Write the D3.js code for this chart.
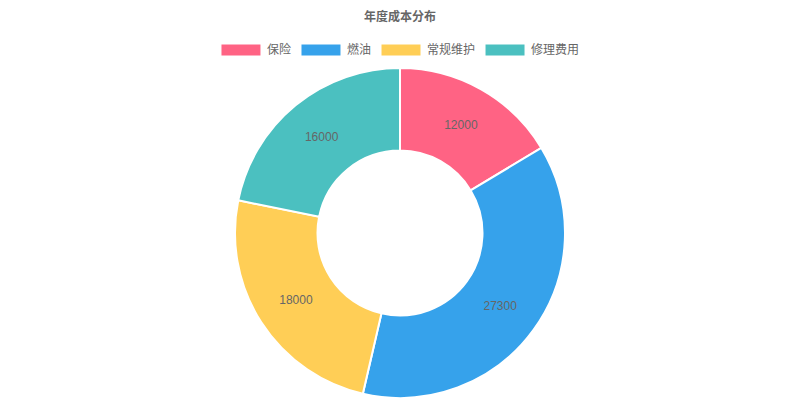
<!DOCTYPE html>
<html>
<head>
<meta charset="utf-8">
<script src="https://cdn.jsdelivr.net/npm/d3@7"></script>
<style>
  body { margin: 0; background: #fff; }
  text { font-family: "Liberation Sans", "Noto Sans CJK SC", sans-serif; }
</style>
</head>
<body>
<svg id="chart" width="800" height="400"></svg>
<script>
// data
const categories = ['保险', '燃油', '常规维护', '修理费用'];
const values = [12000, 27300, 18000, 16000];
const colors = ['#FF6384', '#36A2EB', '#FFCE56', '#4BC0C0'];
const title = '年度成本分布';

const svg = d3.select('#chart');
const width = 800;

const cx = 400, cy = 233;
const outerR = 165;
const innerR = outerR * 0.5;

// title
svg.append('text')
  .attr('x', width / 2)
  .attr('y', 17)
  .attr('text-anchor', 'middle')
  .attr('dominant-baseline', 'central')
  .style('font-size', '12px')
  .style('font-weight', 'bold')
  .style('fill', '#666')
  .text(title);

// legend
const boxW = 40, boxH = 12, fontSize = 12, gap = 10;
const legend = svg.append('g');
const items = legend.selectAll('g')
  .data(categories)
  .enter()
  .append('g');

items.append('text')
  .attr('dominant-baseline', 'central')
  .style('font-size', fontSize + 'px')
  .style('fill', '#666')
  .text(d => d);

let widths = [];
items.each(function() {
  widths.push(boxW + fontSize / 2 + this.getBBox().width);
});
const total = d3.sum(widths) + gap * (widths.length - 1);
let xPos = (width - total) / 2;
items.each(function(d, i) {
  d3.select(this).attr('transform', `translate(${xPos}, 50)`);
  xPos += widths[i] + gap;
});
items.insert('rect', 'text')
  .attr('x', 0)
  .attr('y', -boxH / 2)
  .attr('width', boxW)
  .attr('height', boxH)
  .style('fill', (d, i) => colors[i])
  .style('stroke', '#fff')
  .style('stroke-width', 1);
items.select('text').attr('x', boxW + fontSize / 2);

// donut
const pie = d3.pie().sort(null).value(d => d);
const arc = d3.arc().innerRadius(innerR).outerRadius(outerR);
const labelArc = d3.arc().innerRadius((innerR + outerR) / 2).outerRadius((innerR + outerR) / 2);

const chart = svg.append('g')
  .attr('transform', `translate(${cx}, ${cy})`);

const slices = chart.selectAll('.slice')
  .data(pie(values))
  .enter()
  .append('g')
  .attr('class', 'slice');

slices.append('path')
  .attr('d', arc)
  .style('fill', (d, i) => colors[i])
  .style('stroke', '#fff')
  .style('stroke-width', 2);

slices.append('text')
  .attr('transform', d => `translate(${labelArc.centroid(d)})`)
  .attr('text-anchor', 'middle')
  .attr('dominant-baseline', 'central')
  .style('font-size', '12px')
  .style('fill', '#666')
  .text(d => d.data);
</script>
</body>
</html>
